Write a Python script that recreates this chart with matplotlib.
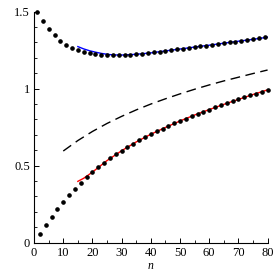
import matplotlib
matplotlib.use("Agg")
import matplotlib.pyplot as plt
from matplotlib.ticker import MultipleLocator

# upper dotted sequence (odd n)
n_up = list(range(1, 80, 2))
y_up = [1.495, 1.437, 1.388, 1.346, 1.312, 1.286, 1.265, 1.252, 1.240, 1.232,
        1.226, 1.221, 1.218, 1.217, 1.217, 1.218, 1.220, 1.223, 1.226, 1.230,
        1.235, 1.240, 1.245, 1.250, 1.255, 1.260, 1.265, 1.270, 1.275, 1.280,
        1.285, 1.290, 1.295, 1.300, 1.306, 1.311, 1.317, 1.322, 1.328, 1.333]

# lower dotted sequence (even n)
n_low = list(range(2, 81, 2))
y_low = [0.058, 0.113, 0.166, 0.216, 0.264, 0.308, 0.349, 0.388, 0.424, 0.458,
         0.490, 0.519, 0.547, 0.573, 0.597, 0.620, 0.642, 0.665, 0.685, 0.704,
         0.723, 0.740, 0.757, 0.774, 0.790, 0.806, 0.821, 0.836, 0.850, 0.864,
         0.878, 0.891, 0.904, 0.917, 0.930, 0.943, 0.956, 0.968, 0.980, 0.992]

# blue approximation of the upper sequence
n_blue = [15, 17, 19, 21, 23, 25, 27, 30, 35, 40, 45, 50, 55, 60, 65, 70, 75, 80]
y_blue = [1.273, 1.258, 1.246, 1.237, 1.229, 1.223, 1.219, 1.218, 1.223, 1.232,
          1.245, 1.257, 1.270, 1.282, 1.295, 1.308, 1.320, 1.334]

# red approximation of the lower sequence
n_red = [15, 17, 20, 25, 30, 35, 40, 45, 50, 55, 60, 65, 70, 75, 80]
y_red = [0.398, 0.418, 0.458, 0.533, 0.597, 0.654, 0.704, 0.748, 0.790, 0.829,
         0.864, 0.898, 0.930, 0.962, 0.992]

# dashed curve
n_dash = [10, 15, 20, 25, 30, 35, 40, 45, 50, 55, 60, 65, 70, 75, 80]
y_dash = [0.595, 0.663, 0.722, 0.774, 0.820, 0.862, 0.900, 0.934, 0.966, 0.996,
          1.024, 1.050, 1.074, 1.098, 1.121]

plt.rcParams['font.family'] = ['Liberation Serif', 'DejaVu Serif']

fig = plt.figure(figsize=(2.77, 2.77), dpi=100)
ax = fig.add_axes([0.123, 0.124, 0.843, 0.834])

ax.plot(n_blue, y_blue, color='#0000ff', lw=1.0)
ax.plot(n_red, y_red, color='#ff0000', lw=1.0)
ax.plot(n_dash, y_dash, color='black', lw=1.0, dashes=(7, 4))
ax.plot(n_up, y_up, 'o', color='black', ms=2.3, clip_on=False)
ax.plot(n_low, y_low, 'o', color='black', ms=2.3, clip_on=False)

ax.set_xlim(0, 80)
ax.set_ylim(0, 1.5)
ax.spines['top'].set_visible(False)
ax.spines['right'].set_visible(False)
ax.spines['left'].set_linewidth(0.8)
ax.spines['bottom'].set_linewidth(0.8)

ax.xaxis.set_major_locator(MultipleLocator(10))
ax.xaxis.set_minor_locator(MultipleLocator(5))
ax.yaxis.set_minor_locator(MultipleLocator(0.1))
ax.set_yticks([0, 0.5, 1, 1.5])
ax.set_yticklabels(['0', '0.5', '1', '1.5'])
ax.tick_params(which='major', direction='in', length=3.5, width=0.7, labelsize=9, pad=3)
ax.tick_params(which='minor', direction='in', length=2, width=0.6)

ax.set_xlabel('n', fontstyle='italic', fontsize=8.5, labelpad=1)

fig.savefig('out.png', dpi=100)
